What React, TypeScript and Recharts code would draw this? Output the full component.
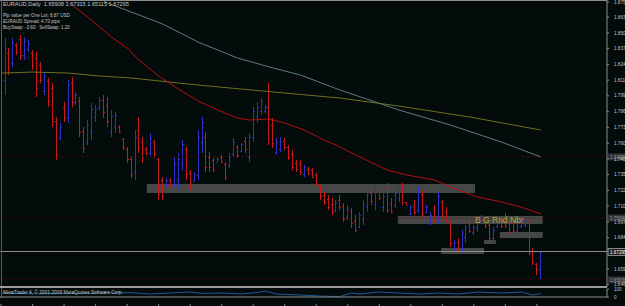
import React from 'react';
import {
  ComposedChart,
  LineChart,
  Bar,
  Line,
  XAxis,
  YAxis,
  ReferenceArea,
  ReferenceLine,
} from 'recharts';

// daily EURAUD bars, one entry per trading day (oldest first)
const highs = [
  1.8461, 1.838, 1.8461, 1.842, 1.8485, 1.8469, 1.8444, 1.8364, 1.8347, 1.8266,
  1.8177, 1.8137, 1.8097, 1.7821, 1.7773, 1.7943, 1.8121, 1.8145, 1.8024, 1.7983,
  1.7741, 1.7797, 1.7935, 1.7919, 1.7983, 1.7999, 1.7983, 1.7878, 1.7862, 1.7757,
  1.7652, 1.7579, 1.7498, 1.7716, 1.7821, 1.766, 1.7579, 1.7692, 1.7635, 1.749,
  1.7336, 1.7328, 1.7328, 1.7498, 1.753, 1.7635, 1.7579, 1.7393, 1.7376, 1.7716,
  1.7821, 1.77, 1.7538, 1.749, 1.7498, 1.7514, 1.7457, 1.753, 1.7652, 1.7595,
  1.7611, 1.766, 1.7692, 1.7902, 1.7943, 1.7975, 1.7919, 1.8097, 1.7813, 1.7652,
  1.766, 1.7652, 1.7595, 1.7555, 1.7474, 1.7474, 1.7433, 1.7417, 1.7409, 1.7368,
  1.7271, 1.7215, 1.719, 1.7166, 1.715, 1.719, 1.7126, 1.711, 1.7085, 1.7029,
  1.7053, 1.715, 1.7231, 1.7247, 1.7271, 1.7247, 1.7207, 1.7288, 1.7166, 1.7247,
  1.7271, 1.7288, 1.7134, 1.711, 1.715, 1.7255, 1.7231, 1.711, 1.7053, 1.711,
  1.7215, 1.715, 1.7093, 1.6988, 1.6826, 1.6843, 1.6907, 1.6948, 1.7004, 1.6948,
  1.7004, 1.7029, 1.7004, 1.6972, 1.6932, 1.6988, 1.6988, 1.7045, 1.6988, 1.6988,
  1.7012, 1.7004, 1.7004, 1.6964, 1.6762, 1.664, 1.67315,
];
const lows = [
  1.7999, 1.8161, 1.8226, 1.8323, 1.8283, 1.8283, 1.8347, 1.8202, 1.7983, 1.8097,
  1.7999, 1.7902, 1.7741, 1.7474, 1.7635, 1.7781, 1.7773, 1.7902, 1.7919, 1.766,
  1.753, 1.7595, 1.7635, 1.7781, 1.7878, 1.7813, 1.7741, 1.766, 1.7692, 1.7692,
  1.7555, 1.7449, 1.7328, 1.7312, 1.753, 1.7449, 1.7514, 1.7498, 1.749, 1.715,
  1.715, 1.7255, 1.7247, 1.7255, 1.7247, 1.7393, 1.7312, 1.7231, 1.7296, 1.7312,
  1.753, 1.7376, 1.7376, 1.7376, 1.7457, 1.7449, 1.7312, 1.7409, 1.7498, 1.749,
  1.7538, 1.753, 1.7457, 1.7619, 1.7773, 1.7838, 1.7854, 1.7595, 1.7571, 1.7514,
  1.7538, 1.7555, 1.7474, 1.7393, 1.7376, 1.7352, 1.7336, 1.7352, 1.7328, 1.7255,
  1.715, 1.711, 1.7069, 1.7029, 1.7053, 1.7069, 1.6972, 1.6988, 1.6924, 1.6891,
  1.6924, 1.6948, 1.7053, 1.711, 1.7069, 1.715, 1.7053, 1.7045, 1.7045, 1.7085,
  1.7134, 1.711, 1.711, 1.7029, 1.7029, 1.7045, 1.7012, 1.7045, 1.6948, 1.6964,
  1.6964, 1.6988, 1.6972, 1.677, 1.6746, 1.6721, 1.6721, 1.6802, 1.6883, 1.6867,
  1.6891, 1.6964, 1.6924, 1.681, 1.681, 1.6924, 1.6924, 1.6924, 1.6867, 1.6883,
  1.6891, 1.6924, 1.6932, 1.6705, 1.6624, 1.6543, 1.65115,
];
const opens = [
  1.812, 1.834, 1.826, 1.84, 1.845, 1.832, 1.837, 1.834, 1.83, 1.824,
  1.803, 1.811, 1.806, 1.779, 1.766, 1.79, 1.782, 1.81, 1.794, 1.795,
  1.771, 1.762, 1.771, 1.782, 1.79, 1.796, 1.792, 1.77, 1.775, 1.774,
  1.764, 1.756, 1.748, 1.738, 1.772, 1.762, 1.756, 1.753, 1.762, 1.748,
  1.731, 1.727, 1.731, 1.728, 1.731, 1.745, 1.756, 1.737, 1.731, 1.735,
  1.762, 1.766, 1.75, 1.747, 1.746, 1.75, 1.744, 1.743, 1.752, 1.758,
  1.755, 1.763, 1.75, 1.766, 1.783, 1.787, 1.787, 1.79, 1.776, 1.754,
  1.756, 1.763, 1.758, 1.752, 1.745, 1.744, 1.736, 1.74, 1.739, 1.735,
  1.726, 1.719, 1.716, 1.712, 1.707, 1.715, 1.71, 1.701, 1.706, 1.698,
  1.693, 1.7, 1.71, 1.721, 1.712, 1.723, 1.709, 1.725, 1.712, 1.711,
  1.717, 1.725, 1.713, 1.704, 1.71, 1.707, 1.72, 1.705, 1.697, 1.708,
  1.7, 1.713, 1.706, 1.697, 1.676, 1.681, 1.675, 1.685, 1.697, 1.689,
  1.692, 1.698, 1.699, 1.695, 1.684, 1.694, 1.698, 1.7, 1.697, 1.696,
  1.691, 1.694, 1.695, 1.698, 1.674, 1.663, 1.65908,
];
const closes = [
  1.838, 1.822, 1.842, 1.835, 1.832, 1.844, 1.842, 1.824, 1.806, 1.812,
  1.815, 1.795, 1.779, 1.752, 1.774, 1.781, 1.808, 1.794, 1.8, 1.77,
  1.757, 1.776, 1.789, 1.789, 1.796, 1.786, 1.779, 1.783, 1.784, 1.771,
  1.758, 1.748, 1.736, 1.766, 1.758, 1.75, 1.753, 1.765, 1.752, 1.72,
  1.718, 1.731, 1.727, 1.745, 1.748, 1.76, 1.736, 1.727, 1.736, 1.766,
  1.778, 1.742, 1.742, 1.74, 1.748, 1.746, 1.734, 1.75, 1.762, 1.751,
  1.76, 1.756, 1.766, 1.787, 1.79, 1.795, 1.79, 1.765, 1.761, 1.762,
  1.763, 1.758, 1.75, 1.742, 1.74, 1.738, 1.742, 1.737, 1.734, 1.728,
  1.718, 1.713, 1.709, 1.705, 1.713, 1.709, 1.7, 1.708, 1.696, 1.691,
  1.703, 1.712, 1.72, 1.714, 1.724, 1.717, 1.718, 1.707, 1.706, 1.721,
  1.725, 1.713, 1.711, 1.709, 1.705, 1.722, 1.704, 1.709, 1.703, 1.699,
  1.718, 1.701, 1.699, 1.68, 1.681, 1.674, 1.688, 1.693, 1.69, 1.693,
  1.699, 1.702, 1.694, 1.684, 1.691, 1.698, 1.694, 1.694, 1.689, 1.69,
  1.699, 1.699, 1.699, 1.672, 1.665, 1.659, 1.67295,
];

// moving averages, read at a few bars each
const redMaBars = [14, 17, 21, 24, 27, 31, 34, 39, 44, 49, 54, 59, 62, 67, 71, 76, 81, 84, 89, 97, 102, 109, 115, 120, 126, 131, 136];
const redMaVals = [1.8792, 1.8728, 1.863, 1.855, 1.8469, 1.838, 1.8283, 1.8153, 1.8048, 1.7951, 1.7878, 1.7813, 1.7797, 1.7805, 1.7773, 1.7716, 1.7635, 1.7595, 1.7514, 1.7393, 1.7352, 1.7312, 1.7231, 1.7174, 1.7134, 1.7093, 1.7037];
const oliveMaBars = [-1, 7, 16, 24, 32, 49, 68, 85, 100, 118, 136];
const oliveMaVals = [1.8177, 1.8185, 1.8177, 1.8153, 1.8137, 1.808, 1.8024, 1.7975, 1.791, 1.7821, 1.7716];
const greyMaBars = [24, 26, 40, 49, 59, 68, 75, 85, 94, 100, 113, 126, 136];
const greyMaVals = [1.8784, 1.8744, 1.8574, 1.8428, 1.8299, 1.8218, 1.8161, 1.804, 1.7943, 1.7878, 1.7757, 1.7619, 1.7498];

// oscillator in the lower window (0..100)
const oscBars = [-1, 10, 20, 32, 37, 42, 47, 50, 55, 60, 65, 66, 69, 75, 80, 84, 85, 88, 90, 95, 100, 105, 110, 115, 120, 126, 131, 133, 134, 136];
const oscVals = [45, 40, 45, 55, 37, 50, 62, 45, 50, 37, 62, 75, 37, 25, 12, 6, 6, 50, 37, 62, 50, 37, 50, 37, 62, 50, 62, 37, 25, 45];

const priceTicks = [1.87521, 1.86305, 1.85018, 1.83758, 1.82455, 1.81195, 1.79926, 1.78648, 1.77358, 1.76099, 1.7482, 1.73565, 1.72278, 1.71018, 1.69715, 1.68455, 1.65908, 1.64648];
const dateTickBars = [-1, 7, 15, 23, 31, 39, 47, 55, 63, 71, 79, 87, 95, 103, 111, 119, 127, 135];
const dateLabels = ['17 Apr 2009', '29 Apr 2009', '12 May 2009', '22 May 2009', '1 Jun 2009', '10 Jun 2009', '18 Jun 2009', '29 Jun 2009', '8 Jul 2009', '17 Jul 2009', '27 Jul 2009', '5 Aug 2009', '14 Aug 2009', '24 Aug 2009', '2 Sep 2009', '11 Sep 2009', '21 Sep 2009', '30 Sep 2009'];

// support / resistance zones: [fromBar, toBar, top, bottom]
const zones = [
  [36, 119.3, 1.7279, 1.7207],
  [99.7, 136.5, 1.7021, 1.6956],
  [125.6, 136.5, 1.6891, 1.6843],
  [110.7, 121.6, 1.6762, 1.6713],
  [121.6, 124.6, 1.6826, 1.6794],
];
const levelLines = [1.7498, 1.7004, 1.6503];
const lastPrice = 1.67295;

const BG = '#040b0b';
const BLUE = '#3030c8';
const RED = '#c81818';
const TXT = '#c4c4c4';
const FRAME = '#8c8c8c';
const X_DOMAIN = [-1.27, 152.8];

const rows: any[] = [];
for (let i = -1; i < highs.length; i++) {
  const r: any = { i };
  if (i >= 0) {
    r.high = highs[i];
    r.low = lows[i];
    r.open = opens[i];
    r.close = closes[i];
    r.range = [lows[i], highs[i]];
  }
  rows.push(r);
}
redMaBars.forEach((b, k) => (rows[b + 1].red = redMaVals[k]));
oliveMaBars.forEach((b, k) => (rows[b + 1].olive = oliveMaVals[k]));
greyMaBars.forEach((b, k) => (rows[b + 1].grey = greyMaVals[k]));

const oscRows = oscBars.map((b, k) => ({ i: b, v: oscVals[k] }));

function OhlcShape(props: any) {
  const { x, y, width, height, payload } = props;
  if (!payload || payload.high == null) return null;
  const top = Math.min(y, y + height);
  const h = Math.abs(height);
  const cx = Math.round(x + width / 2);
  const span = payload.high - payload.low || 1;
  const py = (v: number) => Math.round(top + ((payload.high - v) / span) * h);
  const col = payload.close >= payload.open ? BLUE : RED;
  return (
    <g shapeRendering="crispEdges">
      <rect x={cx} y={Math.round(top)} width={1} height={Math.max(1, Math.round(h))} fill={col} />
      <rect x={cx - 1} y={py(payload.open)} width={1} height={1} fill={col} />
      <rect x={cx + 1} y={py(payload.close)} width={1} height={1} fill={col} />
    </g>
  );
}

const PriceTick = (props: any) => {
  const { x, y, payload } = props;
  return (
    <text x={x + 3} y={y + 1.6} fontSize={4.6} fill={TXT} fontFamily="Liberation Sans">
      {payload.value.toFixed(5)}
    </text>
  );
};

const AxisBox = (props: any) => {
  const { viewBox, text, bright } = props;
  if (!viewBox) return null;
  const bx = viewBox.x + viewBox.width + 1;
  return (
    <g>
      <rect x={bx} y={viewBox.y - 3.5} width={20} height={7} fill={bright ? '#202020' : '#333333'} stroke={bright ? '#d0d0d0' : 'none'} strokeWidth={0.6} />
      <text x={bx + 2} y={viewBox.y + 1.7} fontSize={4.6} fill={bright ? '#ffffff' : '#9a9a9a'} fontFamily="Liberation Sans">
        {text}
      </text>
    </g>
  );
};

const DateTick = (props: any) => {
  const { x, y, payload } = props;
  const k = dateTickBars.indexOf(payload.value);
  return (
    <g>
      <line x1={x} x2={x} y1={y - 1} y2={y + 1} stroke={FRAME} strokeWidth={1} />
      <text x={x - 1} y={y + 5.5} fontSize={5} fill={TXT} fontFamily="Liberation Sans">
        {dateLabels[k]}
      </text>
    </g>
  );
};

const OscTick = (props: any) => {
  const { x, y, payload } = props;
  return (
    <text x={x + 3} y={y + 1.6} fontSize={4.6} fill={TXT} fontFamily="Liberation Sans">
      {payload.value}
    </text>
  );
};

const small: React.CSSProperties = {
  position: 'absolute',
  left: 3,
  fontFamily: 'Liberation Sans',
  color: TXT,
  whiteSpace: 'pre',
  lineHeight: 1,
  pointerEvents: 'none',
};

export default function App() {
  return (
    <div style={{ position: 'fixed', left: 0, top: 0, width: 625, height: 306, background: BG, overflow: 'hidden' }}>
      <div style={{ position: 'absolute', left: 0, top: 0 }}>
        <ComposedChart width={625} height={287} data={rows} margin={{ top: 0, right: 0, bottom: 0, left: 0 }}>
          <XAxis dataKey="i" type="number" domain={X_DOMAIN} allowDataOverflow hide />
          <YAxis
            orientation="right"
            width={18}
            domain={[1.6446, 1.8768]}
            allowDataOverflow
            ticks={priceTicks}
            interval={0}
            tick={<PriceTick />}
            tickLine={{ stroke: FRAME }}
            tickSize={2}
            axisLine={{ stroke: FRAME }}
          />
          {zones.map((z, k) => (
            <ReferenceArea key={k} x1={z[0]} x2={z[1]} y1={z[3]} y2={z[2]} fill="#4e4e4e" fillOpacity={0.9} stroke="none" />
          ))}
          {levelLines.map((v, k) => (
            <ReferenceLine key={k} y={v} stroke="#4e0909" strokeWidth={1} strokeDasharray="1 3" shapeRendering="crispEdges" label={<AxisBox text={v.toFixed(5)} />} />
          ))}
          <ReferenceLine y={lastPrice} stroke="#8a8a8a" shapeRendering="crispEdges" label={<AxisBox text={lastPrice.toFixed(5)} bright />} />
          <Line dataKey="olive" stroke="#6f6f1e" dot={false} connectNulls isAnimationActive={false} strokeWidth={1} />
          <Line dataKey="grey" stroke="#5c7c7c" dot={false} connectNulls isAnimationActive={false} strokeWidth={1} />
          <Line dataKey="red" stroke="#b01010" dot={false} connectNulls isAnimationActive={false} strokeWidth={1} />
          <Bar dataKey="range" barSize={3} shape={<OhlcShape />} isAnimationActive={false} />
        </ComposedChart>
      </div>

      <div style={{ position: 'absolute', left: 0, top: 0, width: 607, height: 1, background: FRAME }} />
      <div style={{ position: 'absolute', left: 1, top: 0, width: 1, height: 298, background: '#5a5a5a' }} />
      <div style={{ position: 'absolute', left: 0, top: 286, width: 607, height: 2, background: '#9a9a9a' }} />

      <div style={{ position: 'absolute', left: 0, top: 287 }}>
        <LineChart width={625} height={19} data={oscRows} margin={{ top: 2, right: 0, bottom: 0, left: 0 }}>
          <XAxis
            dataKey="i"
            type="number"
            domain={X_DOMAIN}
            allowDataOverflow
            ticks={dateTickBars}
            interval={0}
            height={9}
            tick={<DateTick />}
            tickLine={false}
            axisLine={{ stroke: FRAME }}
          />
          <YAxis
            orientation="right"
            width={18}
            domain={[0, 100]}
            ticks={[0, 100]}
            interval={0}
            tick={<OscTick />}
            tickSize={2}
            tickLine={{ stroke: FRAME }}
            axisLine={{ stroke: FRAME }}
          />
          <Line dataKey="v" stroke="#1c5a98" dot={false} isAnimationActive={false} strokeWidth={1} />
        </LineChart>
      </div>

      <div style={{ ...small, top: 2, fontSize: 5.6 }}>EURAUD,Daily  1.65908 1.67315 1.65115 1.67295</div>
      <div style={{ ...small, top: 13.5, fontSize: 4.6 }}>Pip value per One Lot: 8.87 USD</div>
      <div style={{ ...small, top: 19.5, fontSize: 4.6 }}>EURAUD Spread: 4.70 pips</div>
      <div style={{ ...small, top: 25.5, fontSize: 4.6 }}>BuySwap: -3.60   SellSwap: 1.20</div>
      <div style={{ ...small, top: 291, fontSize: 4.8 }}>MetaTrader 4, © 2001-2009 MetaQuotes Software Corp.</div>
      <div style={{ position: 'absolute', left: 475, top: 215, fontSize: 8.5, fontFamily: 'Liberation Sans', color: '#b0a436', whiteSpace: 'pre', pointerEvents: 'none' }}>
        B G Rnd Nbr
      </div>
    </div>
  );
}
